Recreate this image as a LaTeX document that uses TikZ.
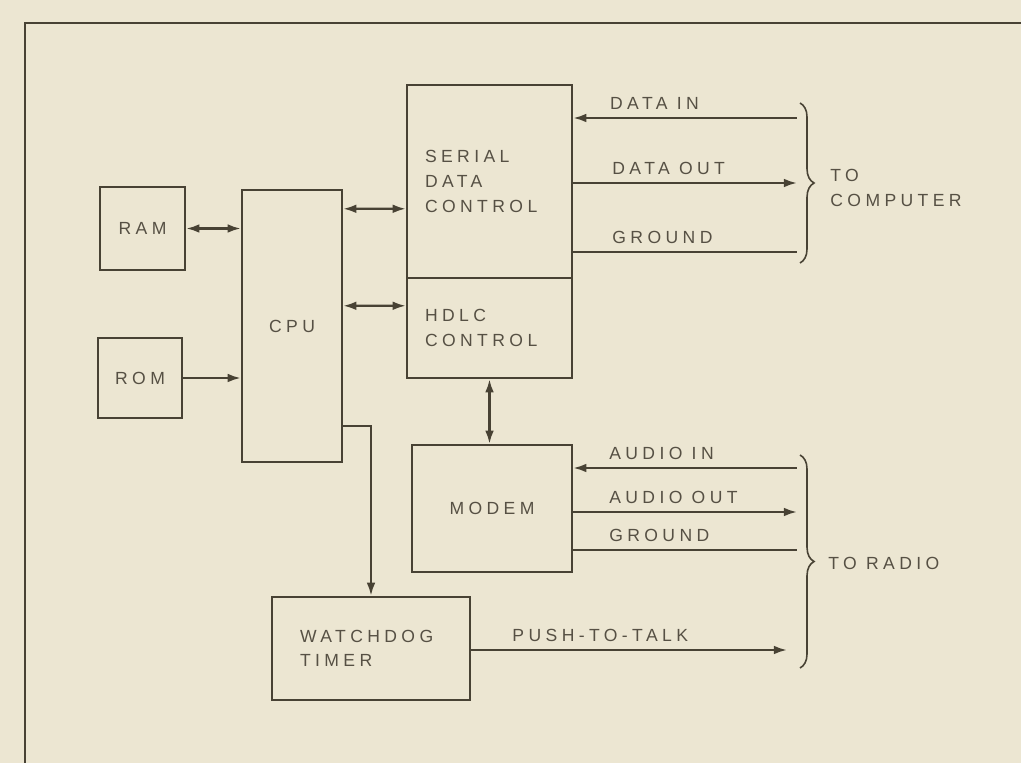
\documentclass[tikz,border=0pt]{standalone}
\usepackage{fontspec}
\setmainfont{Liberation Sans}[LetterSpace=25]
\usepackage{tikz}
\usetikzlibrary{arrows.meta}
\usetikzlibrary{scopes}
\usetikzlibrary{calc}
\usetikzlibrary{decorations.pathreplacing}

\definecolor{paper}{RGB}{236,230,210}
\definecolor{ink}{RGB}{72,66,52}
\definecolor{print}{RGB}{86,80,68}

\begin{document}
\begin{tikzpicture}[x=0.02cm,y=-0.02cm,auto]
\fill[paper] (0,0) rectangle (1021,763);
\useasboundingbox (0,0) rectangle (1021,763);
\draw[ink,line width=1.6pt] (25,763) -- (25,23) -- (1021,23);

\begin{scope}[every node/.style={rectangle,draw=ink,line width=1.4pt,text=print,
              inner sep=0pt,font=\fontsize{10}{14}\selectfont}]
    \node[minimum width=1.7cm,minimum height=1.66cm] (ram) at (142.5,228.5) {RAM};
    \node[minimum width=1.68cm,minimum height=1.6cm] (rom) at (140,378) {ROM};
    \node[minimum width=2cm,minimum height=5.44cm] (cpu) at (292,326) {CPU};
    \node[minimum height=3.86cm,inner xsep=0.36cm,text width=2.58cm,align=left] (sdc) at (489.5,181.5) {SERIAL\\DATA\\CONTROL};
    \node[minimum height=2cm,inner xsep=0.36cm,text width=2.58cm,align=left] (hdlc) at (489.5,328) {HDLC\\CONTROL};
    \node[minimum width=3.2cm,minimum height=2.54cm] (modem) at (492,508.5) {MODEM};
    \node[minimum height=2.06cm,inner xsep=0.56cm,text width=2.84cm,align=left] (wdt) at (371,648.5) {WATCHDOG\\TIMER};
\end{scope}

% ends of the lines at the braces
\coordinate (din) at (797,118);
\coordinate (dout) at (797,183);
\coordinate (dgnd) at (797,252);
\coordinate (ain) at (797,468);
\coordinate (aout) at (797,512);
\coordinate (agnd) at (797,550);
\coordinate (ptt) at (787,650);

\begin{scope}[>={Latex[length=7.5pt,width=5pt]},
              every node/.style={anchor=south west,inner sep=0pt,yshift=4pt,text=print,font=\fontsize{10}{14}\selectfont},
              every edge/.style={draw=ink,line width=1.3pt}]
    \path [<->] (ram.east) edge (ram.east -| cpu.west);
    \path [->] (rom.east) edge (rom.east -| cpu.west);
    \path [<->] ($(cpu.north east)+(0,20)$) edge ($(sdc.north west)+(0,125)$);
    \path [<->] ($(cpu.north east)+(0,117)$) edge ($(hdlc.north west)+(0,29)$);
    \path [<->] (hdlc.south) edge (hdlc.south |- modem.north);
    \path [->] ($(cpu.south east)+(0,-37)$) edge[to path={-| (\tikztotarget)}] (wdt.north);

    \path [<-] (sdc.east |- din) edge node[pos=0.16] {DATA\ IN} (din);
    \path [->] (sdc.east |- dout) edge node[pos=0.17] {DATA\ OUT} (dout);
    \path [-] (sdc.east |- dgnd) edge node[pos=0.17] {GROUND} (dgnd);
    \path [<-] (modem.east |- ain) edge node[pos=0.156] {AUDIO\ IN} (ain);
    \path [->] (modem.east |- aout) edge node[pos=0.156] {AUDIO\ OUT} (aout);
    \path [-] (modem.east |- agnd) edge node[pos=0.156] {GROUND} (agnd);
    \path [->] (wdt.east |- ptt) edge node[pos=0.127] {PUSH-TO-TALK} (ptt);
\end{scope}

\begin{scope}[every path/.style={draw=ink,line width=0.9pt,decorate,decoration={brace,amplitude=8pt}}]
    \path (800,103) -- (800,263);
    \path (800,455) -- (800,668);
\end{scope}
\node[anchor=west,inner sep=0pt,align=left,text=print,font=\fontsize{10}{14}\selectfont] (tocomp) at (830,188) {TO\\COMPUTER};
\node[anchor=west,inner sep=0pt,text=print,font=\fontsize{10}{14}\selectfont] (toradio) at (828,563) {TO RADIO};
\end{tikzpicture}
\end{document}
